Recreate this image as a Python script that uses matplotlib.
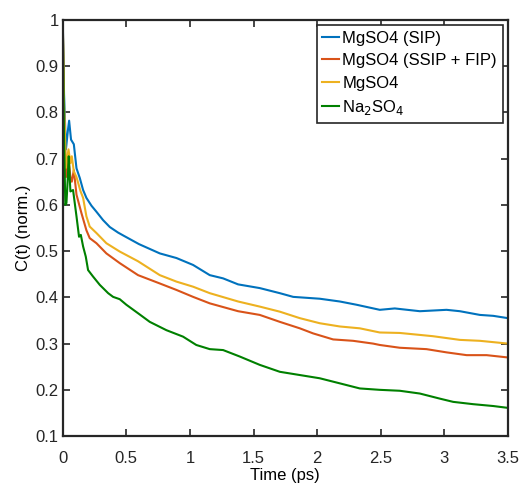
import matplotlib.pyplot as plt

plt.rcParams['font.family'] = ['Liberation Sans', 'DejaVu Sans']

# MgSO4 (SIP)
t_sip = [0, 0.01, 0.025, 0.04, 0.05, 0.065, 0.087, 0.108, 0.134, 0.16, 0.186, 0.226,
         0.265, 0.317, 0.37, 0.435, 0.474, 0.6, 0.763, 0.894, 1.025, 1.156, 1.261,
         1.379, 1.549, 1.707, 1.812, 2.021, 2.179, 2.31, 2.493, 2.611, 2.808, 3.018,
         3.123, 3.28, 3.385, 3.5]
c_sip = [1.0, 0.84, 0.72, 0.76, 0.782, 0.741, 0.731, 0.679, 0.658, 0.632, 0.615, 0.598,
         0.585, 0.567, 0.552, 0.54, 0.534, 0.515, 0.495, 0.485, 0.47, 0.448, 0.441,
         0.428, 0.42, 0.409, 0.401, 0.397, 0.391, 0.384, 0.373, 0.376, 0.37, 0.373,
         0.37, 0.362, 0.36, 0.355]

# MgSO4 (SSIP + FIP)
t_fip = [0, 0.01, 0.025, 0.045, 0.06, 0.071, 0.087, 0.108, 0.147, 0.186, 0.212,
         0.265, 0.343, 0.448, 0.592, 0.763, 0.894, 1.025, 1.156, 1.379,
         1.549, 1.707, 1.864, 1.969, 2.126, 2.283, 2.44, 2.493, 2.65, 2.86, 3.018,
         3.176, 3.333, 3.5]
c_fip = [1.0, 0.8, 0.66, 0.7, 0.66, 0.65, 0.675, 0.622, 0.582, 0.545, 0.528,
         0.517, 0.495, 0.474, 0.448, 0.43, 0.416, 0.401, 0.387, 0.37,
         0.362, 0.347, 0.333, 0.322, 0.309, 0.306, 0.3, 0.297, 0.291, 0.288, 0.281,
         0.275, 0.275, 0.27]

# MgSO4
t_all = [0, 0.01, 0.025, 0.045, 0.06, 0.071, 0.087, 0.108, 0.139, 0.16, 0.186, 0.212,
         0.265, 0.343, 0.448, 0.592, 0.763, 0.894, 1.025, 1.156, 1.379,
         1.549, 1.707, 1.864, 2.021, 2.179, 2.336, 2.493, 2.65, 2.91, 3.123, 3.28, 3.5]
c_all = [1.0, 0.82, 0.68, 0.72, 0.69, 0.705, 0.672, 0.66, 0.63, 0.615, 0.575, 0.553,
         0.539, 0.517, 0.499, 0.478, 0.448, 0.434, 0.423, 0.409, 0.391,
         0.38, 0.369, 0.355, 0.344, 0.337, 0.333, 0.324, 0.323, 0.316, 0.308, 0.306, 0.3]

# Na2SO4
t_na = [0, 0.01, 0.02, 0.029, 0.04, 0.047, 0.06, 0.081, 0.108, 0.128, 0.142, 0.16,
        0.181, 0.199, 0.238, 0.291, 0.357, 0.396, 0.448, 0.5, 0.6, 0.684, 0.815, 0.946,
        1.05, 1.156, 1.261, 1.392, 1.549, 1.707, 1.864, 2.021, 2.179, 2.336, 2.493, 2.65,
        2.808, 2.965, 3.07, 3.227, 3.385, 3.5]
c_na = [1.0, 0.75, 0.6, 0.604, 0.66, 0.705, 0.629, 0.632, 0.575, 0.531, 0.535, 0.51,
        0.488, 0.459, 0.445, 0.427, 0.409, 0.401, 0.396, 0.384, 0.364, 0.347, 0.329, 0.315,
        0.297, 0.288, 0.286, 0.272, 0.254, 0.239, 0.232, 0.225, 0.214, 0.203, 0.2, 0.198,
        0.192, 0.181, 0.174, 0.169, 0.165, 0.161]

fig = plt.figure(figsize=(5.23, 4.84), dpi=100)
ax = fig.add_axes([0.12, 0.099, 0.851, 0.86])

lw = 1.5
ax.plot(t_sip, c_sip, color='#0072BD', lw=lw, label='MgSO4 (SIP)')
ax.plot(t_fip, c_fip, color='#D95319', lw=lw, label='MgSO4 (SSIP + FIP)')
ax.plot(t_all, c_all, color='#EDB120', lw=lw, label='MgSO4')
ax.plot(t_na, c_na, color='#008000', lw=lw, label='Na$_2$SO$_4$')

ax.set_xlim(0, 3.5)
ax.set_ylim(0.1, 1)
ax.set_xticks([0, 0.5, 1, 1.5, 2, 2.5, 3, 3.5])
ax.set_xticklabels(['0', '0.5', '1', '1.5', '2', '2.5', '3', '3.5'])
ax.set_yticks([0.1, 0.2, 0.3, 0.4, 0.5, 0.6, 0.7, 0.8, 0.9, 1])
ax.set_yticklabels(['0.1', '0.2', '0.3', '0.4', '0.5', '0.6', '0.7', '0.8', '0.9', '1'])
ax.tick_params(direction='in', top=True, right=True, labelsize=12,
               length=5, width=1.2, colors='#262626', pad=3)
ax.tick_params(axis='x', pad=11)
for s in ax.spines.values():
    s.set_linewidth(1.6)
    s.set_color('#262626')

ax.set_xlabel('Time (ps)', fontsize=12, labelpad=1)
ax.set_ylabel('C(t) (norm.)', fontsize=12, labelpad=3)

leg = ax.legend(loc='upper right', fontsize=12, frameon=True, fancybox=False,
                handlelength=1.0, handletextpad=0.2, borderpad=0.35,
                labelspacing=0.45, borderaxespad=0.3, framealpha=1)
leg.get_frame().set_edgecolor('#262626')
leg.get_frame().set_linewidth(1.2)

fig.savefig('out.png', dpi=100)
